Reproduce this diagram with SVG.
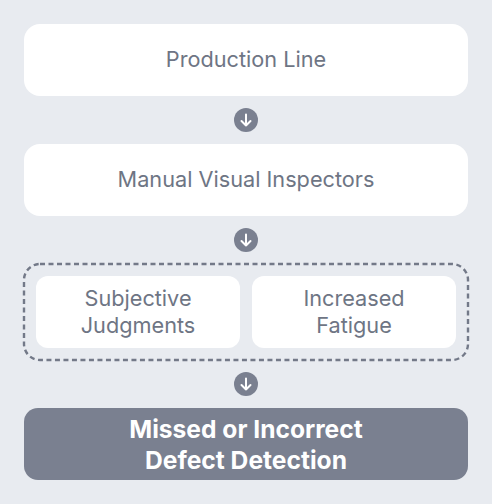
<svg xmlns="http://www.w3.org/2000/svg" width="492" height="504" viewBox="0 0 492 504">
<defs>
<style>
.bg{fill:#e8ebf0}
.box{fill:#ffffff}
.lbl{font-family:Inter,"Noto Sans","Liberation Sans",sans-serif;font-size:21.7px;fill:#6e7584;text-anchor:middle;dominant-baseline:central}
.dark{fill:#7a8090}
.dlbl{font-family:Inter,"Noto Sans","Liberation Sans",sans-serif;font-size:24.6px;font-weight:700;fill:#ffffff;text-anchor:middle;dominant-baseline:central}
.group{fill:none;stroke:#737988;stroke-width:2.4;stroke-dasharray:5 3.5}
.dot{fill:#7a8090}
.arr{fill:none;stroke:#ffffff;stroke-width:2;stroke-linecap:round;stroke-linejoin:round}
</style>
</defs>
<rect class="bg" x="0" y="0" width="492" height="504"/>
<g id="production-line">
<rect class="box" x="24" y="24" width="444" height="72" rx="16"/>
<text class="lbl" x="246" y="58.5">Production Line</text>
</g>
<g id="manual-visual-inspectors">
<rect class="box" x="24" y="144" width="444" height="72" rx="16"/>
<text class="lbl" x="246" y="178.5">Manual Visual Inspectors</text>
</g>
<g id="causes-group">
<rect class="group" x="24" y="264" width="444" height="96" rx="16"/>
</g>
<g id="subjective-judgments">
<rect class="box" x="36" y="276" width="204" height="72" rx="12"/>
<text class="lbl" x="138" y="297.5">Subjective</text>
<text class="lbl" x="138" y="324.5">Judgments</text>
</g>
<g id="increased-fatigue">
<rect class="box" x="252" y="276" width="204" height="72" rx="12"/>
<text class="lbl" x="354" y="297.5">Increased</text>
<text class="lbl" x="354" y="324.5">Fatigue</text>
</g>
<g id="missed-detection">
<rect class="dark" x="24" y="408" width="444" height="72" rx="14"/>
<text class="dlbl" x="246" y="428.5">Missed or Incorrect</text>
<text class="dlbl" x="246" y="459.5">Defect Detection</text>
</g>
<g id="connectors">
<circle class="dot" cx="246" cy="120" r="12"/>
<path class="arr" d="M246 114.5V125.5M241.5 121L246 125.5L250.5 121"/>
<circle class="dot" cx="246" cy="240" r="12"/>
<path class="arr" d="M246 234.5V245.5M241.5 241L246 245.5L250.5 241"/>
<circle class="dot" cx="246" cy="384" r="12"/>
<path class="arr" d="M246 378.5V389.5M241.5 385L246 389.5L250.5 385"/>
</g>
</svg>
